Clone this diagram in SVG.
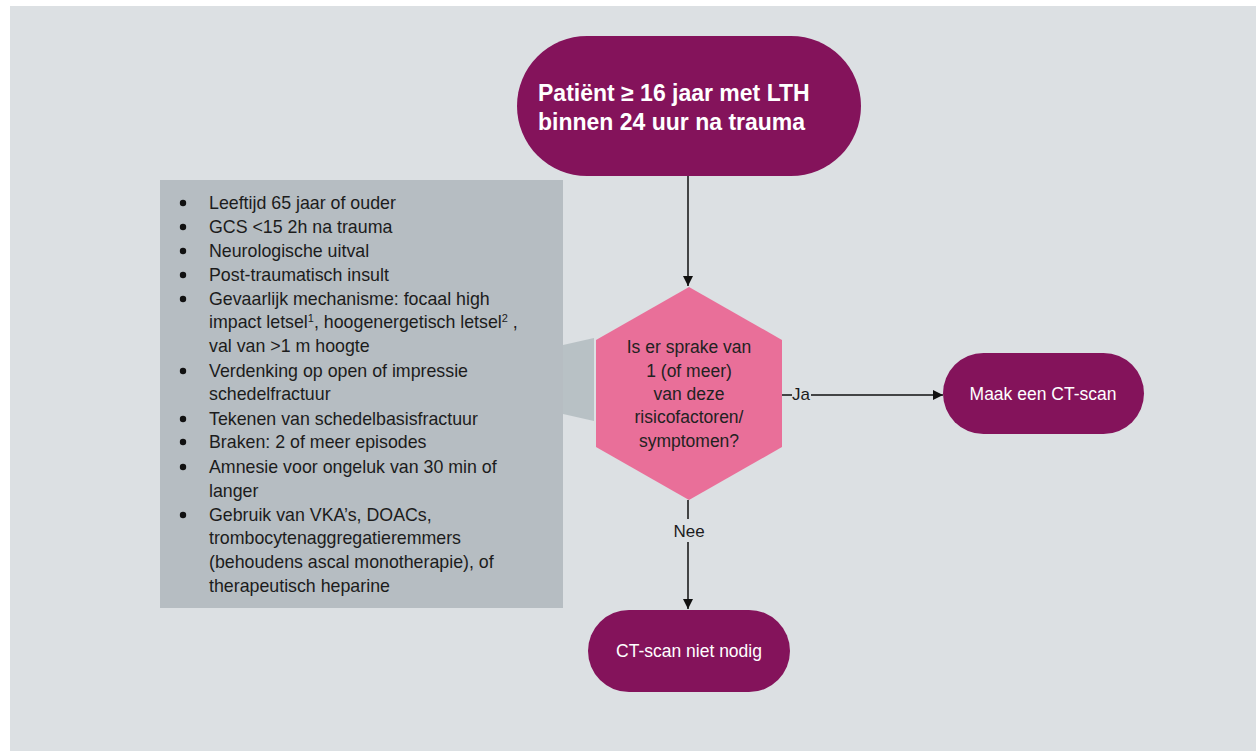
<svg xmlns="http://www.w3.org/2000/svg" width="1256" height="751" viewBox="0 0 1256 751">
<defs>
<style>
.node{fill:#84135b;}
.ntxt{font-family:"Liberation Sans",Arial,sans-serif;font-size:17.5px;fill:#ffffff;text-anchor:middle;}
.ttl{font-family:"Liberation Sans",Arial,sans-serif;font-size:23px;font-weight:bold;fill:#ffffff;}
.lst{font-family:"Liberation Sans",Arial,sans-serif;font-size:17.8px;fill:#1c1c1c;}
.hx{font-family:"Liberation Sans",Arial,sans-serif;font-size:17.5px;fill:#222222;text-anchor:middle;}
.lbl{font-family:"Liberation Sans",Arial,sans-serif;font-size:17px;fill:#1c1c1c;text-anchor:middle;}
.conn{stroke:#111111;stroke-width:1.5;fill:none;}
.bul{fill:#111111;}
</style>
<marker id="arr" viewBox="0 0 10 10" refX="10" refY="5" markerWidth="10" markerHeight="10" markerUnits="userSpaceOnUse" orient="auto">
<path d="M0,0 L10,5 L0,10 z" fill="#111111"/>
</marker>
</defs>
<rect x="0" y="0" width="1256" height="751" fill="#ffffff"/>
<rect x="10" y="6" width="1246" height="745" fill="#dce0e3"/>

<g id="risk-list">
<rect x="160" y="180" width="403" height="428" fill="#b6bdc2"/>
<polygon points="563,345 594,338 594,421 563,414" fill="#b8c1c5"/>
<g class="bul">
<circle cx="183" cy="203" r="3.2"/>
<circle cx="183" cy="227" r="3.2"/>
<circle cx="183" cy="251" r="3.2"/>
<circle cx="183" cy="275" r="3.2"/>
<circle cx="183" cy="299" r="3.2"/>
<circle cx="183" cy="371" r="3.2"/>
<circle cx="183" cy="419" r="3.2"/>
<circle cx="183" cy="442" r="3.2"/>
<circle cx="183" cy="467" r="3.2"/>
<circle cx="183" cy="515" r="3.2"/>
</g>
<g class="lst">
<text x="209" y="209">Leeftijd 65 jaar of ouder</text>
<text x="209" y="233">GCS &lt;15 2h na trauma</text>
<text x="209" y="257">Neurologische uitval</text>
<text x="209" y="281">Post-traumatisch insult</text>
<text x="209" y="305">Gevaarlijk mechanisme: focaal high</text>
<text x="209" y="328">impact letsel<tspan dy="-6" font-size="11">1</tspan><tspan dy="6">, hoogenergetisch letsel</tspan><tspan dy="-6" font-size="11">2</tspan><tspan dy="6"> ,</tspan></text>
<text x="209" y="352">val van &gt;1 m hoogte</text>
<text x="209" y="377">Verdenking op open of impressie</text>
<text x="209" y="400">schedelfractuur</text>
<text x="209" y="425">Tekenen van schedelbasisfractuur</text>
<text x="209" y="448">Braken: 2 of meer episodes</text>
<text x="209" y="473">Amnesie voor ongeluk van 30 min of</text>
<text x="209" y="497">langer</text>
<text x="209" y="521">Gebruik van VKA’s, DOACs,</text>
<text x="209" y="544">trombocytenaggregatieremmers</text>
<text x="209" y="568">(behoudens ascal monotherapie), of</text>
<text x="209" y="592">therapeutisch heparine</text>
</g>
</g>

<g id="connectors">
<line class="conn" x1="688" y1="176" x2="688" y2="286" marker-end="url(#arr)"/>
<line class="conn" x1="782" y1="395" x2="943" y2="395" marker-end="url(#arr)"/>
<line class="conn" x1="688" y1="500" x2="688" y2="609" marker-end="url(#arr)"/>
<rect x="792" y="385" width="19" height="20" fill="#dce0e3"/>
<text class="lbl" x="801" y="400">Ja</text>
<rect x="670" y="519" width="38" height="23" fill="#dce0e3"/>
<text class="lbl" x="689" y="537">Nee</text>
</g>

<g id="start">
<rect class="node" x="517" y="36" width="344" height="140" rx="70" ry="70"/>
<text class="ttl" x="538" y="101">Patiënt ≥ 16 jaar met LTH</text>
<text class="ttl" x="538" y="130">binnen 24 uur na trauma</text>
</g>

<g id="decision">
<polygon points="689,287 782,340 782,447 689,500 596,447 596,340" fill="#e96f99"/>
<text class="hx" x="689" y="353">Is er sprake van</text>
<text class="hx" x="689" y="377">1 (of meer)</text>
<text class="hx" x="689" y="400">van deze</text>
<text class="hx" x="689" y="423">risicofactoren/</text>
<text class="hx" x="689" y="447">symptomen?</text>
</g>

<g id="ct-scan">
<rect class="node" x="943" y="353" width="201" height="81" rx="40.5" ry="40.5"/>
<text class="ntxt" x="1043" y="400">Maak een CT-scan</text>
</g>

<g id="no-ct">
<rect class="node" x="588" y="610" width="202" height="82" rx="41" ry="41"/>
<text class="ntxt" x="689" y="657">CT-scan niet nodig</text>
</g>
</svg>
